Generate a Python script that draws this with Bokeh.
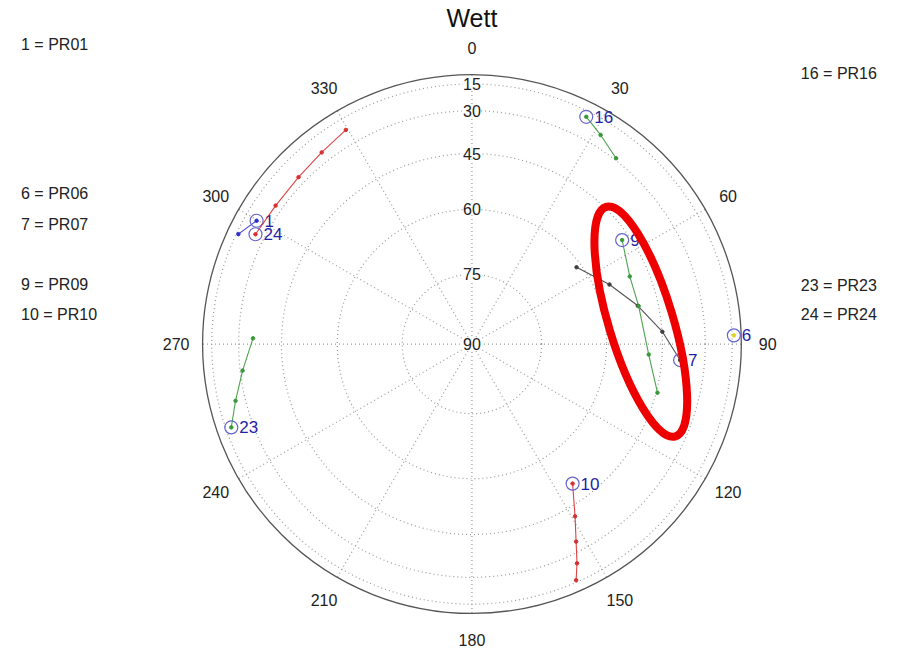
import numpy as np
from bokeh.plotting import figure
from bokeh.models import Range1d, Label
from bokeh.embed import file_html
from bokeh.resources import INLINE
from bokeh.core.properties import value

# ---------------- data ----------------
TITLE = "Wett"
AZ_TICKS = [0, 30, 60, 90, 120, 150, 180, 210, 240, 270, 300, 330]
EL_RINGS = [15, 30, 45, 60, 75]
EL_LABELS = [15, 30, 45, 60, 75, 90]

SAT_IDS = ["1", "6", "7", "9", "10", "16", "23", "24"]
# first point of every track = current satellite position (circled)
PR01_AZ = [299.8, 295.2]
PR01_EL = [22.9, 16.6]
PR06_AZ = [88.1]
PR06_EL = [13.4]
PR07_AZ = [94.4, 86.3, 77.0, 66.6, 53.7]
PR07_EL = [39.2, 44.9, 50.8, 56.2, 61.2]
PR09_AZ = [55.3, 66.8, 77.2, 93.4, 104.7]
PR09_EL = [47.3, 50.4, 50.6, 48.9, 44.6]
PR10_AZ = [144.2, 149.1, 152.2, 154.4, 156.2]
PR10_EL = [50.3, 41.8, 34.0, 25.5, 16.6]
PR16_AZ = [26.7, 31.6, 37.8]
PR16_EL = [19.2, 24.3, 29.2]
PR23_AZ = [250.9, 256.5, 263.4, 271.5]
PR23_EL = [19.0, 25.5, 31.0, 35.6]
PR24_AZ = [296.9, 305.2, 313.9, 321.9, 329.5]
PR24_EL = [25.7, 26.9, 26.7, 25.3, 22.7]

TRACKS_AZ = [PR01_AZ, PR06_AZ, PR07_AZ, PR09_AZ, PR10_AZ, PR16_AZ, PR23_AZ, PR24_AZ]
TRACKS_EL = [PR01_EL, PR06_EL, PR07_EL, PR09_EL, PR10_EL, PR16_EL, PR23_EL, PR24_EL]
TRACK_COLORS = ["#2f2fd0", "#e0d020", "#404040", "#3a983a", "#d83030",
                "#3a983a", "#3a983a", "#d83030"]

LEFT_LEGEND = ["1 = PR01", "6 = PR06", "7 = PR07", "9 = PR09", "10 = PR10"]
RIGHT_LEGEND = ["16 = PR16", "23 = PR23", "24 = PR24"]

# ---------------- layout helpers ----------------
W, H = 898, 651
K = H / 667.0                 # uniform shrink of reference layout to fit
R_REF = 276.0                 # reference horizon radius (px)
S = R_REF * K                 # pixels per unit radius in our figure
FCX = 480.0 * K + (W - 914 * K) / 2
FCY = 352.0 * K


def sx(x):
    return (x - 480.0) / R_REF


def sy(y):
    return (352.0 - y) / R_REF


def polar(az, el):
    az = np.radians(np.asarray(az, dtype=float))
    r = np.cos(np.radians(np.asarray(el, dtype=float)))
    return r * np.sin(az), r * np.cos(az)


p = figure(width=W, height=H,
           x_range=Range1d(-FCX / S, (W - FCX) / S),
           y_range=Range1d((FCY - H) / S, FCY / S),
           toolbar_location=None, output_backend="svg",
           x_axis_location=None, y_axis_location=None,
           min_border=0, outline_line_color=None)
p.xgrid.grid_line_color = None
p.ygrid.grid_line_color = None
p.background_fill_color = "white"

FONT = value("Liberation Sans")
GRID = "#9a9a9a"

# elevation rings
ring_r = np.cos(np.radians(EL_RINGS))
p.circle(x=[0] * len(EL_RINGS), y=[0] * len(EL_RINGS), radius=ring_r,
         fill_color=None, line_color=GRID, line_dash="1 3", line_width=1.2)

# spokes
ex, ey = polar(AZ_TICKS, [0] * len(AZ_TICKS))
p.segment(x0=[0] * len(AZ_TICKS), y0=[0] * len(AZ_TICKS), x1=ex, y1=ey,
          line_color=GRID, line_dash="1 3", line_width=1.2)

# outer horizon circle
p.circle(x=[0], y=[0], radius=[1.0], fill_color=None, line_color="#555555", line_width=1.3)

# azimuth labels
lx = 1.098 * np.sin(np.radians(AZ_TICKS))
ly = 1.098 * np.cos(np.radians(AZ_TICKS))
p.text(x=lx, y=ly, text=[str(a) for a in AZ_TICKS], text_align="center",
       text_baseline="middle", text_font=FONT, text_font_size="16px", text_color="#222222")

# elevation labels (white background)
for el in EL_LABELS:
    p.add_layout(Label(x=0, y=float(np.cos(np.radians(el))), text=str(el),
                       text_align="center", text_baseline="middle",
                       text_font="Liberation Sans", text_font_size="16px",
                       text_color="#222222", background_fill_color="white"))

# tracks
for sid, az, el, col in zip(SAT_IDS, TRACKS_AZ, TRACKS_EL, TRACK_COLORS):
    x, y = polar(az, el)
    if len(x) > 1:
        p.line(x, y, line_color=col, line_width=1.1, line_alpha=0.9)
        p.scatter(x[1:], y[1:], size=3.5, marker="circle", fill_color=col,
                  line_color=col)
    p.scatter([x[0]], [y[0]], size=3.5, marker="circle", fill_color=col, line_color=col)
    p.scatter([x[0]], [y[0]], size=13, marker="circle", fill_color=None,
              line_color="#6464cc", line_width=1.2)
    p.text(x=[x[0]], y=[y[0]], text=[sid], x_offset=8, text_baseline="middle",
           text_align="left", text_font=FONT, text_font_size="17px", text_color="#1f1fa8")

# highlight ellipse
p.ellipse(x=[sx(653)], y=[sy(329)], width=[66 / R_REF], height=[246 / R_REF], angle=[16.8],
          angle_units="deg", fill_color=None, line_color="#ee0000", line_width=8)

# title
p.text(x=[0], y=[sy(18)], text=[TITLE], text_align="center", text_baseline="middle",
       text_font=FONT, text_font_size="25px", text_color="#111111")

# satellite legend texts
LEFT_Y = [45, 198, 229, 291, 322]
RIGHT_Y = [75, 292, 322]
p.text(x=[sx(18)] * len(LEFT_LEGEND), y=[sy(v) for v in LEFT_Y], text=LEFT_LEGEND,
       text_align="left", text_baseline="middle", text_font=FONT,
       text_font_size="16px", text_color="#222222")
p.text(x=[sx(817)] * len(RIGHT_LEGEND), y=[sy(v) for v in RIGHT_Y], text=RIGHT_LEGEND,
       text_align="left", text_baseline="middle", text_font=FONT,
       text_font_size="16px", text_color="#222222")

open("out.html", "w").write(file_html(p, INLINE))
